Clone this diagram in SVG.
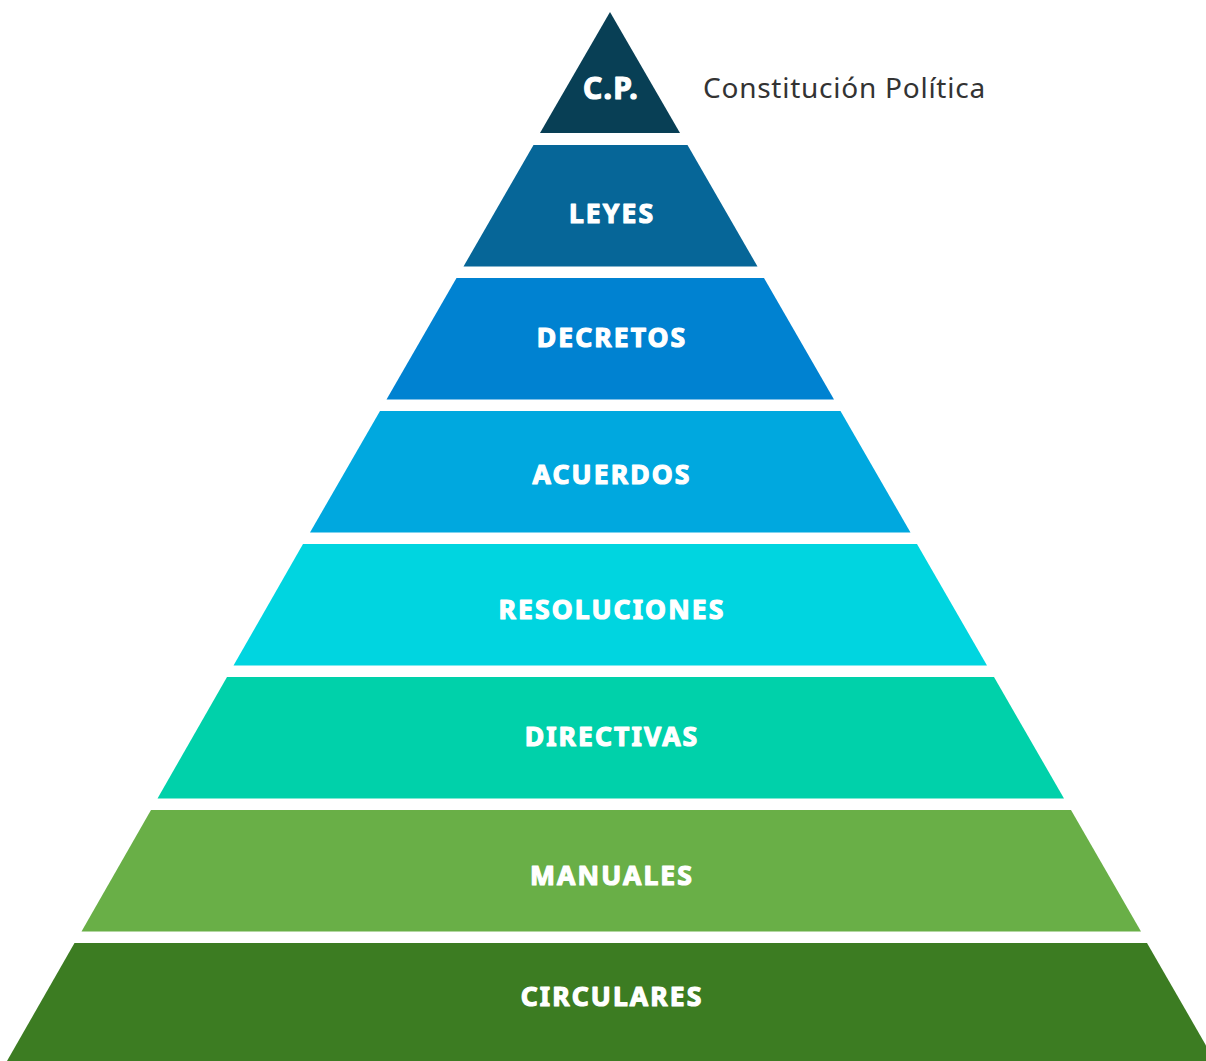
<svg xmlns="http://www.w3.org/2000/svg" width="1206" height="1061" viewBox="0 0 1206 1061">
  <style>
    .lbl { font-family: "Noto Sans", "Open Sans", sans-serif; font-weight: 700; fill: #ffffff; stroke: #ffffff; stroke-width: 1.2px; stroke-linejoin: round; font-size: 26.5px; letter-spacing: 2.1px; text-anchor: middle; }
    .note { font-family: "Noto Sans", "Open Sans", sans-serif; font-weight: 400; fill: #333333; font-size: 28px; letter-spacing: 0.75px; }
  </style>
  <rect width="1206" height="1061" fill="#ffffff"/>

  <!-- Pyramid levels, top to bottom -->
  <g id="cp">
    <polygon points="610,12 540,133 680,133" fill="#083f55"/>
    <text class="lbl" x="611" y="99" style="font-size:30px;letter-spacing:1.3px">C.P.</text>
  </g>
  <g id="leyes">
    <polygon points="533.5,145 687.5,145 757.5,266.5 463.5,266.5" fill="#066698"/>
    <text class="lbl" x="612" y="223">LEYES</text>
  </g>
  <g id="decretos">
    <polygon points="456.5,278 764,278 834,399.5 386.5,399.5" fill="#0082d1"/>
    <text class="lbl" x="612" y="347">DECRETOS</text>
  </g>
  <g id="acuerdos">
    <polygon points="380,411 840.5,411 910.5,532.5 310,532.5" fill="#00a8df"/>
    <text class="lbl" x="612" y="484">ACUERDOS</text>
  </g>
  <g id="resoluciones">
    <polygon points="303,544 917,544 987,665.5 233.5,665.5" fill="#00d5e0"/>
    <text class="lbl" x="612" y="619">RESOLUCIONES</text>
  </g>
  <g id="directivas">
    <polygon points="227,677 994,677 1064,798.5 157.5,798.5" fill="#00d1aa"/>
    <text class="lbl" x="612" y="746">DIRECTIVAS</text>
  </g>
  <g id="manuales">
    <polygon points="151,810 1071,810 1141,931.5 81.5,931.5" fill="#69af47"/>
    <text class="lbl" x="612" y="885">MANUALES</text>
  </g>
  <g id="circulares">
    <polygon points="74.5,943 1147,943 1215,1061 7,1061" fill="#3c7c22"/>
    <text class="lbl" x="612" y="1006">CIRCULARES</text>
  </g>

  <g id="connectors"></g>

  <g id="cp-note">
    <text class="note" x="703" y="98">Constitución Política</text>
  </g>
</svg>
